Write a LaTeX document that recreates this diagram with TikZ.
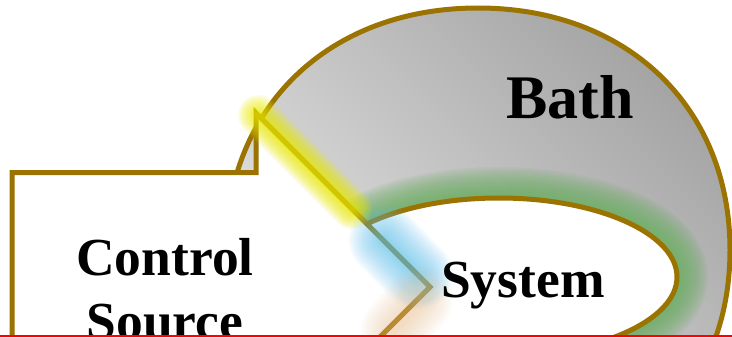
\documentclass[tikz,border=0pt]{standalone}
\usepackage{fontspec}
\setmainfont{Liberation Serif}
\definecolor{rim}{HTML}{9B7300}
\definecolor{bathlight}{HTML}{E0E0E0}
\definecolor{bathdark}{HTML}{A2A2A2}
\definecolor{glowgreen}{HTML}{6BAF62}
\definecolor{glowyellow}{HTML}{EAEA00}
\definecolor{glowblue}{HTML}{5FC3EE}
\definecolor{glowpeach}{HTML}{F3BD87}
\tikzset{
  rimline/.style={draw=rim, line width=5pt},
  txt/.style={inner sep=0pt, text=black},
  bigfont/.style={font=\fontsize{62}{74}\selectfont\bfseries},
  midfont/.style={font=\fontsize{53.5}{64}\selectfont\bfseries},
}
\begin{document}
\begin{tikzpicture}[x=1pt,y=-1pt]
\useasboundingbox (0,0) rectangle (732,337);
\clip (0,0) rectangle (732,337);
% outline of the bath: a slightly squared oval
\def\bathpath{(478,8) .. controls (627.3,8) and (730,107.2) .. (730,250)
  .. controls (730,392.8) and (627.3,492) .. (478,492)
  .. controls (328.7,492) and (226,392.8) .. (226,250)
  .. controls (226,107.2) and (328.7,8) .. (478,8) -- cycle}
\begin{scope}
  \clip \bathpath;
  \shade[top color=bathdark, bottom color=bathlight, shading angle=-45]
    (215,0) rectangle (732,337);
\end{scope}
\draw[rimline] \bathpath;
% system: green halo, then the white ellipse
\coordinate (sysc) at (499,277);
\foreach \w in {62,58,...,10}
  \draw[glowgreen, line width=\w pt, opacity=0.1]
    (sysc) ellipse [x radius=178pt, y radius=79pt];
\draw[rimline, fill=white] (sysc) ellipse [x radius=178pt, y radius=79pt];
% control source outline
\draw[rimline, fill=white, line join=miter, miter limit=10]
  (12,172.5) -- (256,172.5) -- (256,113) -- (430,287) -- (370,347)
  -- (12,347) -- cycle;
% coloured halos along the source's edges
\coordinate (ya) at (258,115);
\coordinate (yb) at (352,209);
\foreach \w in {40,37,...,7}
  \draw[glowyellow, line width=\w pt, opacity=0.1, line cap=round] (ya) -- (yb);
\coordinate (ba) at (384,240);
\coordinate (bb) at (418,275);
\foreach \w in {70,66,...,6}
  \draw[glowblue, line width=\w pt, opacity=0.06, line cap=round] (ba) -- (bb);
\coordinate (pa) at (420,300);
\coordinate (pb) at (394,330);
\foreach \w in {66,62,...,6}
  \draw[glowpeach, line width=\w pt, opacity=0.035, line cap=round] (pa) -- (pb);
% labels
\node[txt, bigfont, anchor=base west] (bath) at (506,119) {Bath};
\node[txt, midfont, anchor=base west] (system) at (441,297) {System};
\node[txt, midfont, align=center, anchor=north] (source) at (165,238) {Control\\Source};
% bottom rule
\fill[red] (0,334.6) rectangle (732,337.5);
\end{tikzpicture}
\end{document}
